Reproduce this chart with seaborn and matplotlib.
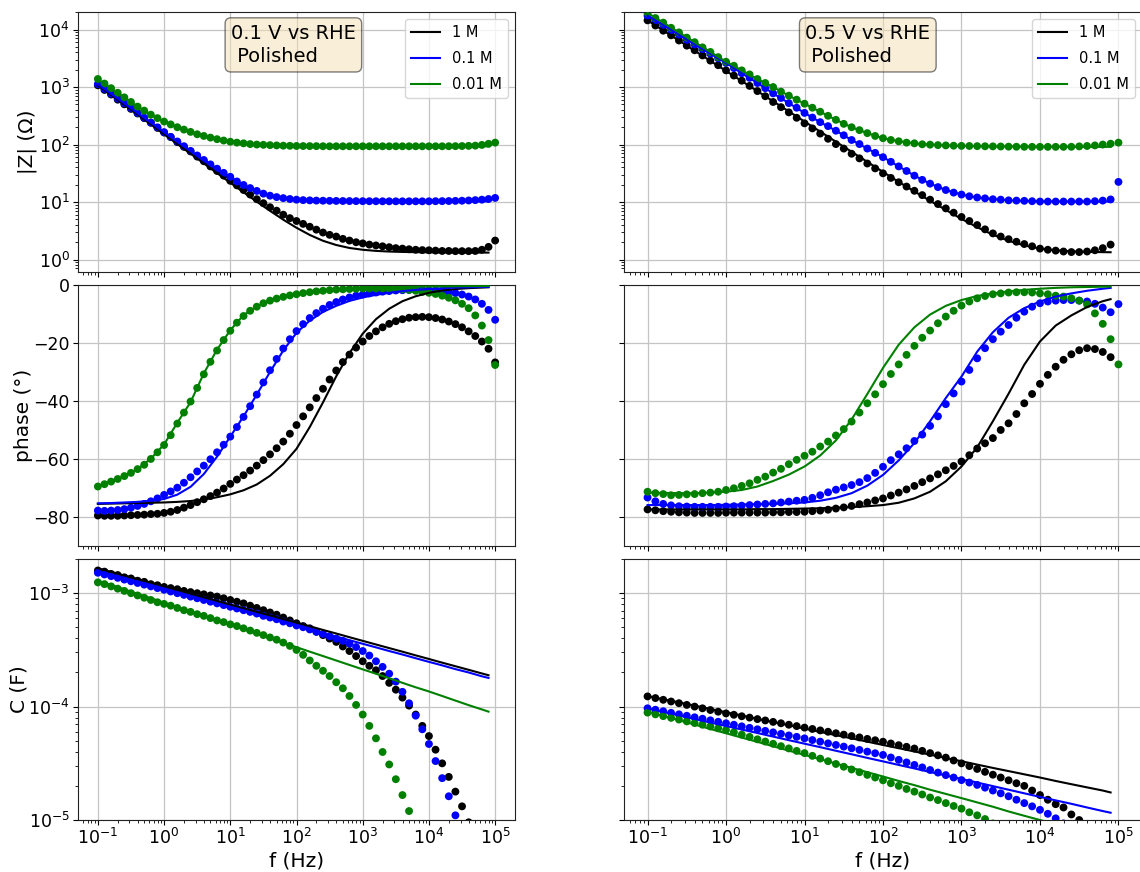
import matplotlib
matplotlib.use("Agg")
import matplotlib.pyplot as plt
from matplotlib.lines import Line2D
import seaborn as sns

# ---------------- data ----------------
freq = [0.1, 0.1259, 0.1585, 0.1995, 0.2512, 0.3162, 0.3981, 0.5012, 0.631, 0.7943,
        1, 1.259, 1.585, 1.995, 2.512, 3.162, 3.981, 5.012, 6.31, 7.943,
        10, 12.59, 15.85, 19.95, 25.12, 31.62, 39.81, 50.12, 63.1, 79.43,
        100, 125.9, 158.5, 199.5, 251.2, 316.2, 398.1, 501.2, 631, 794.3,
        1000, 1259, 1585, 1995, 2512, 3162, 3981, 5012, 6310, 7943,
        10000, 12590, 15850, 19950, 25120, 31620, 39810, 50120, 63100, 79430, 100000]
freq_fit = [0.1, 0.1585, 0.2512, 0.3981, 0.631, 1, 1.585, 2.512, 3.981, 6.31,
            10, 15.85, 25.12, 39.81, 63.1, 100, 158.5, 251.2, 398.1, 631,
            1000, 1585, 2512, 3981, 6310, 10000, 15850, 25120, 39810, 63100, 79430]
concentrations = ["1 M", "0.1 M", "0.01 M"]
colors = ["black", "blue", "green"]
potentials = ["0.1 V vs RHE\n Polished", "0.5 V vs RHE\n Polished"]

# ---- 0.1 V : |Z| (Ohm) ----
zmag_01V_1M = [1072, 891, 741, 603, 501, 417, 347, 288, 240, 195,
               162, 135, 110, 91.2, 75.9, 61.7, 51.3, 41.7, 34.7, 28.8,
               23.4, 19.5, 16.2, 13.5, 11.2, 9.55, 8.13, 7.08, 6.03, 5.25,
               4.68, 4.17, 3.72, 3.31, 2.95, 2.69, 2.51, 2.29, 2.14, 2.0,
               1.91, 1.82, 1.76, 1.70, 1.64, 1.58, 1.55, 1.51, 1.48, 1.46,
               1.45, 1.43, 1.41, 1.41, 1.40, 1.40, 1.40, 1.41, 1.48, 1.66, 2.14]
zmag_01V_01M = [1124, 927, 764, 630, 520, 429, 354, 292, 241, 199,
                164, 136, 113, 93.5, 77.6, 64.6, 53.9, 45.2, 38.0, 32.2,
                27.5, 22.8, 19.8, 17.5, 15.6, 14.0, 12.9, 12.2, 11.7, 11.3,
                11.0, 10.8, 10.7, 10.6, 10.55, 10.5, 10.46, 10.43, 10.4, 10.38,
                10.36, 10.34, 10.33, 10.32, 10.31, 10.3, 10.3, 10.3, 10.3, 10.3,
                10.3, 10.35, 10.38, 10.42, 10.48, 10.55, 10.65, 10.8, 11.0, 11.3, 11.8]
zmag_01V_001M = [1380, 1148, 955, 794, 661, 550, 457, 389, 331, 288,
                 251, 224, 200, 182, 166, 151, 141, 132, 124, 117.5,
                 112, 108, 105, 102, 100, 98.9, 97.7, 96.6, 95.5, 95.1,
                 94.4, 94.2, 94.0, 93.8, 93.5, 93.3, 93.3, 93.3, 93.3, 93.3,
                 93.3, 93.3, 93.3, 93.3, 93.3, 93.3, 93.3, 93.3, 93.3, 93.3,
                 93.3, 93.3, 93.3, 93.5, 93.8, 94.2, 94.8, 95.7, 98.5, 103, 108]
zfit_01V_1M = [1072, 724, 490, 331, 224, 151, 102, 69.5, 47.1, 31.9,
               21.7, 14.8, 10.16, 7.03, 4.94, 3.57, 2.68, 2.12, 1.79, 1.59,
               1.48, 1.415, 1.378, 1.357, 1.344, 1.335, 1.328, 1.325, 1.323, 1.322, 1.321]
zfit_01V_01M = [1120, 762, 518, 352, 240, 163, 112, 77.5, 53.8, 38.0,
                27.5, 19.8, 15.6, 12.9, 11.7, 11.0, 10.7, 10.55, 10.46, 10.4,
                10.36, 10.33, 10.31, 10.3, 10.3, 10.3, 10.3, 10.3, 10.3, 10.3, 10.3]
zfit_01V_001M = [1370, 950, 660, 458, 330, 250, 200, 166, 141, 124,
                 112, 105, 100, 97.5, 95.8, 94.8, 94.2, 93.8, 93.6, 93.5,
                 93.4, 93.4, 93.4, 93.4, 93.4, 93.4, 93.4, 93.4, 93.4, 93.3, 93.3]

# ---- 0.1 V : phase (deg) ----
phase_01V_1M = [-79.5, -79.6, -79.6, -79.6, -79.5, -79.4, -79.3, -79.2, -79.0, -78.9,
                -78.6, -78.2, -77.6, -76.8, -75.9, -74.9, -73.9, -72.8, -71.6, -70.2,
                -68.6, -67.1, -65.6, -64.0, -62.3, -60.4, -58.4, -56.3, -54.0, -51.3,
                -48.3, -45.3, -42.2, -39.0, -35.8, -32.6, -29.5, -26.6, -24.0, -21.6,
                -19.5, -17.6, -16.0, -14.6, -13.4, -12.5, -11.8, -11.3, -11.1, -11.0,
                -11.1, -11.4, -11.9, -12.6, -13.5, -14.6, -16.0, -17.6, -19.5, -22.0, -26.7]
phase_01V_01M = [-77.8, -77.9, -77.8, -77.6, -77.3, -76.8, -76.2, -75.5, -74.6, -73.6,
                 -72.4, -71.2, -69.9, -68.2, -66.3, -64.3, -62.3, -60.1, -57.7, -55.1,
                 -52.3, -49.0, -45.5, -41.8, -37.8, -33.6, -29.4, -25.5, -21.9, -18.7,
                 -15.9, -13.5, -11.4, -9.7, -8.2, -6.9, -5.9, -5.0, -4.3, -3.7,
                 -3.3, -2.9, -2.6, -2.3, -2.1, -1.9, -1.8, -1.7, -1.7, -1.7,
                 -1.8, -1.9, -2.1, -2.4, -2.8, -3.3, -4.0, -5.0, -6.5, -8.6, -12.0]
phase_01V_001M = [-69.5, -68.7, -67.8, -66.9, -65.9, -64.8, -63.5, -62.0, -60.0, -57.7,
                  -55.2, -51.8, -47.8, -44.0, -40.2, -35.5, -30.8, -26.5, -22.6, -19.0,
                  -15.8, -13.0, -10.7, -8.9, -7.5, -6.3, -5.4, -4.7, -4.1, -3.6,
                  -3.2, -2.8, -2.5, -2.2, -2.0, -1.8, -1.6, -1.5, -1.4, -1.3,
                  -1.2, -1.2, -1.2, -1.2, -1.3, -1.4, -1.5, -1.7, -2.0, -2.4,
                  -2.7, -3.1, -3.7, -4.4, -5.3, -6.5, -8.0, -10.5, -14.0, -19.0, -27.6]
pfit_01V_1M = [-75.5, -75.4, -75.3, -75.2, -75.1, -75.0, -74.8, -74.5, -74.0, -73.2,
               -72.2, -70.8, -68.8, -65.8, -61.8, -56.5, -49.0, -40.5, -31.5, -23.5,
               -16.8, -11.8, -8.2, -5.6, -3.9, -2.7, -1.9, -1.4, -1.1, -0.9, -0.8]
pfit_01V_01M = [-75.3, -75.2, -75.0, -74.8, -74.4, -73.8, -72.3, -69.6, -65.2, -59.2,
                -52.3, -45.3, -37.8, -30.0, -22.6, -16.5, -12.3, -9.3, -7.2, -5.5,
                -4.3, -3.4, -2.7, -2.1, -1.7, -1.4, -1.1, -0.9, -0.8, -0.7, -0.65]
pfit_01V_001M = [-69.5, -67.8, -65.9, -63.5, -59.9, -55.0, -47.5, -40.4, -30.5, -22.3,
                 -15.6, -10.4, -7.4, -5.4, -4.1, -3.1, -2.4, -1.9, -1.5, -1.25,
                 -1.05, -0.9, -0.8, -0.7, -0.6, -0.55, -0.5, -0.45, -0.4, -0.4, -0.35]

# ---- 0.1 V : C (F) ----
cap_01V_1M = [1.585e-3, 1.549e-3, 1.479e-3, 1.445e-3, 1.380e-3, 1.349e-3, 1.288e-3, 1.259e-3, 1.202e-3, 1.175e-3,
              1.135e-3, 1.109e-3, 1.084e-3, 1.047e-3, 1.023e-3, 1.000e-3, 9.77e-4, 9.55e-4, 9.33e-4, 9.02e-4,
              8.71e-4, 8.41e-4, 8.13e-4, 7.76e-4, 7.41e-4, 7.08e-4, 6.76e-4, 6.46e-4, 6.10e-4, 5.75e-4,
              5.43e-4, 5.13e-4, 4.90e-4, 4.57e-4, 4.27e-4, 3.98e-4, 3.72e-4, 3.39e-4, 3.09e-4, 2.79e-4,
              2.51e-4, 2.29e-4, 2.09e-4, 1.86e-4, 1.62e-4, 1.41e-4, 1.20e-4, 1.02e-4, 8.51e-5, 6.76e-5,
              5.50e-5, 4.17e-5, 3.16e-5, 2.40e-5, 1.78e-5, 1.32e-5, 9.55e-6, 6.76e-6, 4.68e-6, 3.16e-6, 2.00e-6]
cap_01V_01M = [1.514e-3, 1.462e-3, 1.413e-3, 1.365e-3, 1.318e-3, 1.274e-3, 1.230e-3, 1.189e-3, 1.148e-3, 1.109e-3,
               1.072e-3, 1.035e-3, 1.000e-3, 9.66e-4, 9.33e-4, 9.02e-4, 8.71e-4, 8.41e-4, 8.13e-4, 7.85e-4,
               7.59e-4, 7.33e-4, 7.08e-4, 6.84e-4, 6.61e-4, 6.31e-4, 6.10e-4, 5.89e-4, 5.62e-4, 5.43e-4,
               5.19e-4, 5.01e-4, 4.79e-4, 4.57e-4, 4.37e-4, 4.17e-4, 3.98e-4, 3.80e-4, 3.59e-4, 3.35e-4,
               3.09e-4, 2.82e-4, 2.51e-4, 2.24e-4, 1.95e-4, 1.66e-4, 1.35e-4, 1.07e-4, 8.32e-5, 6.31e-5,
               4.68e-5, 3.31e-5, 2.34e-5, 1.62e-5, 1.10e-5, 7.24e-6, 4.79e-6, 3.09e-6, 1.95e-6, 1.20e-6, 7.24e-7]
cap_01V_001M = [1.245e-3, 1.202e-3, 1.148e-3, 1.096e-3, 1.047e-3, 1.000e-3, 9.55e-4, 9.12e-4, 8.71e-4, 8.32e-4,
                8.04e-4, 7.76e-4, 7.41e-4, 7.08e-4, 6.84e-4, 6.53e-4, 6.31e-4, 6.03e-4, 5.75e-4, 5.56e-4,
                5.31e-4, 5.13e-4, 4.90e-4, 4.68e-4, 4.47e-4, 4.27e-4, 4.07e-4, 3.89e-4, 3.67e-4, 3.43e-4,
                3.16e-4, 2.86e-4, 2.55e-4, 2.29e-4, 2.07e-4, 1.86e-4, 1.64e-4, 1.45e-4, 1.24e-4, 1.035e-4,
                8.51e-5, 6.76e-5, 5.25e-5, 3.98e-5, 3.09e-5, 2.29e-5, 1.66e-5, 1.20e-5, 8.51e-6, 5.89e-6,
                3.98e-6, 2.63e-6, 1.70e-6, 1.07e-6, 6.61e-7, 3.98e-7, 2.34e-7, 1.35e-7, 7.59e-8, 4.17e-8, 2.24e-8]
cfit_01V_1M = [1.66e-3, 1.54e-3, 1.43e-3, 1.33e-3, 1.24e-3, 1.15e-3, 1.07e-3, 9.91e-4, 9.20e-4, 8.55e-4,
               7.94e-4, 7.38e-4, 6.85e-4, 6.37e-4, 5.92e-4, 5.50e-4, 5.11e-4, 4.74e-4, 4.41e-4, 4.09e-4,
               3.80e-4, 3.53e-4, 3.28e-4, 3.05e-4, 2.83e-4, 2.63e-4, 2.44e-4, 2.27e-4, 2.11e-4, 1.96e-4, 1.89e-4]
cfit_01V_01M = [1.55e-3, 1.44e-3, 1.34e-3, 1.24e-3, 1.16e-3, 1.07e-3, 9.98e-4, 9.27e-4, 8.63e-4, 8.02e-4,
                7.45e-4, 6.92e-4, 6.43e-4, 5.98e-4, 5.56e-4, 5.16e-4, 4.80e-4, 4.46e-4, 4.15e-4, 3.85e-4,
                3.58e-4, 3.33e-4, 3.09e-4, 2.88e-4, 2.67e-4, 2.48e-4, 2.31e-4, 2.14e-4, 2.00e-4, 1.85e-4, 1.79e-4]
cfit_01V_001M = [1.29e-3, 1.18e-3, 1.08e-3, 9.87e-4, 9.02e-4, 8.24e-4, 7.53e-4, 6.88e-4, 6.29e-4, 5.74e-4,
                 5.25e-4, 4.80e-4, 4.38e-4, 4.00e-4, 3.66e-4, 3.34e-4, 3.05e-4, 2.79e-4, 2.55e-4, 2.33e-4,
                 2.13e-4, 1.95e-4, 1.78e-4, 1.62e-4, 1.48e-4, 1.36e-4, 1.24e-4, 1.13e-4, 1.03e-4, 9.44e-5, 9.03e-5]

# ---- 0.5 V : |Z| (Ohm) ----
zmag_05V_1M = [14450, 11750, 9550, 7943, 6457, 5248, 4365, 3548, 2884, 2399,
               1950, 1585, 1288, 1047, 851, 692, 550, 447, 363, 292,
               234, 191, 155, 126, 102, 85.1, 69.2, 57.5, 46.8, 38.5,
               31.6, 26.3, 22.1, 18.6, 15.7, 13.2, 11.0, 9.23, 7.76, 6.53,
               5.50, 4.68, 3.98, 3.35, 2.85, 2.51, 2.26, 2.04, 1.86, 1.70,
               1.55, 1.48, 1.43, 1.38, 1.35, 1.35, 1.38, 1.45, 1.58, 1.82]
zmag_05V_01M = [17378, 14454, 12023, 9772, 8128, 6607, 5495, 4571, 3802, 3162,
                2630, 2138, 1738, 1445, 1175, 955, 776, 646, 525, 437,
                355, 295, 245, 209, 174, 145, 120, 102, 85.1, 71.6,
                60.3, 50.1, 41.7, 34.7, 28.8, 24.3, 20.9, 18.2, 16.2, 14.6,
                13.5, 12.6, 12.0, 11.6, 11.2, 11.0, 10.7, 10.6, 10.5, 10.35,
                10.2, 10.2, 10.2, 10.2, 10.2, 10.2, 10.2, 10.35, 10.6, 11.1, 22.4]
zmag_05V_001M = [19500, 15850, 13180, 10720, 8913, 7244, 6026, 4898, 4074, 3311,
                 2754, 2344, 1950, 1660, 1380, 1175, 1000, 832, 708, 603,
                 513, 437, 372, 316, 269, 229, 200, 178, 158, 141,
                 129, 120, 114, 108, 105, 101, 99.5, 97.7, 96.6, 95.5,
                 94.8, 94.4, 93.8, 93.3, 92.9, 92.5, 92.0, 91.6, 91.4, 91.2,
                 91.2, 91.2, 91.2, 91.2, 91.4, 92.9, 94.4, 96.6, 100, 103.5, 108]
zfit_05V_1M = [14450, 9640, 6430, 4285, 2858, 1905, 1271, 847, 565, 377,
               251, 168, 112, 74.8, 50.0, 33.4, 22.4, 15.3, 10.5, 7.3,
               5.1, 3.65, 2.7, 2.12, 1.76, 1.55, 1.45, 1.39, 1.36, 1.345, 1.34]
zfit_05V_01M = [17380, 12020, 8130, 5500, 3800, 2630, 1738, 1175, 776, 525,
                355, 245, 174, 120, 85.1, 60.3, 41.7, 28.8, 20.9, 16.2,
                13.5, 12.0, 11.2, 10.7, 10.5, 10.3, 10.25, 10.2, 10.2, 10.2, 10.2]
zfit_05V_001M = [19500, 13180, 8913, 6026, 4074, 2754, 1950, 1380, 1000, 708,
                 513, 372, 269, 200, 158, 129, 114, 105, 99.5, 96.6,
                 94.8, 93.8, 93.0, 92.5, 92.0, 91.6, 91.4, 91.3, 91.2, 91.2, 91.2]

# ---- 0.5 V : phase (deg) ----
phase_05V_1M = [-77.4, -77.7, -78.0, -78.2, -78.4, -78.5, -78.6, -78.6, -78.6, -78.6,
                -78.5, -78.5, -78.5, -78.5, -78.5, -78.5, -78.4, -78.4, -78.3, -78.3,
                -78.2, -78.0, -77.8, -77.5, -77.1, -76.7, -76.2, -75.6, -75.0, -74.3,
                -73.6, -72.6, -71.6, -70.5, -69.3, -68.0, -66.7, -65.3, -63.9, -62.4,
                -60.9, -58.7, -56.4, -54.6, -52.8, -50.0, -47.7, -44.5, -40.8, -37.6,
                -34.1, -31.0, -28.2, -25.8, -23.9, -22.5, -21.8, -22.1, -23.1, -24.9]
phase_05V_01M = [-73.3, -74.6, -75.5, -76.0, -76.3, -76.4, -76.5, -76.5, -76.5, -76.5,
                 -76.4, -76.3, -76.1, -75.9, -75.7, -75.5, -75.3, -75.0, -74.7, -74.4,
                 -74.1, -73.4, -72.5, -71.5, -70.6, -69.8, -69.0, -68.0, -66.6, -64.8,
                 -62.7, -60.4, -58.4, -56.3, -53.8, -51.6, -48.6, -45.3, -41.1, -37.4,
                 -33.3, -29.3, -25.3, -21.8, -18.7, -16.1, -13.8, -11.3, -9.2, -7.5,
                 -6.3, -5.7, -5.4, -5.2, -5.2, -5.4, -5.7, -6.5, -7.8, -9.4, -6.6]
phase_05V_001M = [-71.3, -71.8, -72.1, -72.5, -72.4, -72.2, -72.1, -71.8, -71.6, -71.3,
                  -70.7, -70.1, -69.3, -68.4, -67.2, -66.1, -64.7, -63.4, -61.8, -60.3,
                  -58.9, -57.5, -55.7, -54.0, -51.9, -49.7, -47.1, -44.0, -40.8, -37.7,
                  -34.2, -30.7, -27.4, -24.1, -21.0, -18.2, -15.7, -13.2, -10.9, -8.9,
                  -7.1, -5.7, -4.6, -3.8, -3.2, -2.9, -2.6, -2.5, -2.5, -2.6,
                  -2.9, -3.2, -3.7, -4.0, -4.6, -5.4, -6.7, -9.8, -13.4, -18.7, -27.4]
pfit_05V_1M = [-77.4, -77.4, -77.4, -77.4, -77.4, -77.4, -77.4, -77.3, -77.3, -77.2,
               -77.1, -77.0, -76.8, -76.6, -76.3, -75.9, -75.1, -73.6, -71.3, -67.7,
               -62.6, -56.0, -47.0, -37.5, -27.5, -19.5, -14.0, -10.5, -7.6, -5.6, -4.9]
pfit_05V_01M = [-75.9, -75.9, -75.9, -75.9, -75.9, -75.8, -75.7, -75.6, -75.5, -75.3,
                -75.0, -74.4, -73.4, -71.8, -69.2, -65.5, -60.5, -54.5, -47.0, -39.0,
                -31.6, -23.0, -16.3, -11.3, -8.0, -5.7, -4.0, -2.9, -2.0, -1.3, -1.0]
pfit_05V_001M = [-71.6, -71.7, -71.8, -71.8, -71.6, -71.3, -70.7, -69.5, -67.6, -65.4,
                 -62.6, -58.8, -53.6, -46.4, -37.6, -28.6, -20.6, -14.6, -10.2, -7.2,
                 -5.2, -3.8, -2.9, -2.2, -1.7, -1.3, -1.0, -0.8, -0.7, -0.6, -0.55]

# ---- 0.5 V : C (F) ----
cap_05V_1M = [1.230e-4, 1.189e-4, 1.148e-4, 1.109e-4, 1.072e-4, 1.035e-4, 1.000e-4, 9.66e-5, 9.33e-5, 9.02e-5,
              8.71e-5, 8.47e-5, 8.22e-5, 8.00e-5, 7.76e-5, 7.55e-5, 7.33e-5, 7.13e-5, 6.92e-5, 6.73e-5,
              6.53e-5, 6.35e-5, 6.17e-5, 6.00e-5, 5.82e-5, 5.66e-5, 5.50e-5, 5.35e-5, 5.19e-5, 5.05e-5,
              4.90e-5, 4.73e-5, 4.57e-5, 4.42e-5, 4.27e-5, 4.07e-5, 3.89e-5, 3.72e-5, 3.55e-5, 3.35e-5,
              3.16e-5, 2.99e-5, 2.82e-5, 2.66e-5, 2.51e-5, 2.37e-5, 2.24e-5, 2.11e-5, 2.00e-5, 1.82e-5,
              1.66e-5, 1.51e-5, 1.38e-5, 1.29e-5, 1.12e-5, 1.00e-5, 8.32e-6, 6.92e-6, 5.62e-6, 4.47e-6]
cap_05V_01M = [9.66e-5, 9.38e-5, 9.10e-5, 8.81e-5, 8.55e-5, 8.30e-5, 8.05e-5, 7.82e-5, 7.57e-5, 7.35e-5,
               7.13e-5, 6.92e-5, 6.70e-5, 6.50e-5, 6.31e-5, 6.11e-5, 5.93e-5, 5.75e-5, 5.57e-5, 5.41e-5,
               5.25e-5, 5.07e-5, 4.91e-5, 4.74e-5, 4.59e-5, 4.44e-5, 4.29e-5, 4.15e-5, 4.01e-5, 3.88e-5,
               3.75e-5, 3.56e-5, 3.39e-5, 3.22e-5, 3.06e-5, 2.91e-5, 2.76e-5, 2.62e-5, 2.49e-5, 2.37e-5,
               2.25e-5, 2.14e-5, 2.04e-5, 1.93e-5, 1.82e-5, 1.72e-5, 1.62e-5, 1.51e-5, 1.41e-5, 1.32e-5,
               1.23e-5, 1.135e-5, 1.035e-5, 9.33e-6, 8.32e-6, 7.24e-6, 6.31e-6, 5.37e-6, 4.47e-6, 3.63e-6, 2.82e-6]
cap_05V_001M = [8.85e-5, 8.55e-5, 8.24e-5, 7.96e-5, 7.69e-5, 7.41e-5, 7.16e-5, 6.92e-5, 6.68e-5, 6.44e-5,
                6.22e-5, 5.94e-5, 5.66e-5, 5.41e-5, 5.15e-5, 4.92e-5, 4.70e-5, 4.48e-5, 4.28e-5, 4.07e-5,
                3.89e-5, 3.68e-5, 3.48e-5, 3.30e-5, 3.12e-5, 2.95e-5, 2.79e-5, 2.64e-5, 2.50e-5, 2.37e-5,
                2.24e-5, 2.11e-5, 2.00e-5, 1.88e-5, 1.78e-5, 1.68e-5, 1.58e-5, 1.50e-5, 1.41e-5, 1.33e-5,
                1.26e-5, 1.17e-5, 1.10e-5, 1.02e-5, 9.33e-6, 8.51e-6, 7.76e-6, 6.92e-6, 6.17e-6, 5.37e-6,
                4.68e-6, 3.98e-6, 3.39e-6, 2.82e-6, 2.34e-6, 1.91e-6, 1.51e-6, 1.17e-6, 8.91e-7, 6.61e-7, 4.47e-7]
cfit_05V_1M = [1.24e-4, 1.16e-4, 1.09e-4, 1.02e-4, 9.53e-5, 8.91e-5, 8.34e-5, 7.80e-5, 7.31e-5, 6.84e-5,
               6.40e-5, 5.98e-5, 5.60e-5, 5.25e-5, 4.91e-5, 4.59e-5, 4.30e-5, 4.02e-5, 3.77e-5, 3.52e-5,
               3.30e-5, 3.08e-5, 2.88e-5, 2.70e-5, 2.53e-5, 2.37e-5, 2.21e-5, 2.07e-5, 1.94e-5, 1.82e-5, 1.75e-5]
cfit_05V_01M = [9.66e-5, 8.99e-5, 8.37e-5, 7.78e-5, 7.24e-5, 6.75e-5, 6.28e-5, 5.85e-5, 5.44e-5, 5.06e-5,
                4.71e-5, 4.39e-5, 4.08e-5, 3.80e-5, 3.53e-5, 3.29e-5, 3.06e-5, 2.85e-5, 2.65e-5, 2.47e-5,
                2.30e-5, 2.14e-5, 1.99e-5, 1.85e-5, 1.72e-5, 1.60e-5, 1.49e-5, 1.39e-5, 1.29e-5, 1.20e-5, 1.16e-5]
cfit_05V_001M = [9.03e-5, 8.28e-5, 7.59e-5, 6.94e-5, 6.35e-5, 5.82e-5, 5.33e-5, 4.89e-5, 4.47e-5, 4.09e-5,
                 3.75e-5, 3.44e-5, 3.15e-5, 2.88e-5, 2.64e-5, 2.42e-5, 2.21e-5, 2.03e-5, 1.85e-5, 1.70e-5,
                 1.56e-5, 1.43e-5, 1.31e-5, 1.19e-5, 1.09e-5, 1.00e-5, 9.18e-6, 8.41e-6, 7.69e-6, 7.05e-6, 6.75e-6]

# ---------------- figure ----------------
plt.rcParams["font.family"] = ["DejaVu Sans"]
fig = plt.figure(figsize=(11.4, 8.72), dpi=100)

col_x = [(78 / 1140, 437 / 1140), (624 / 1140, 518 / 1140)]
row_y = [(0.6881, 0.2982), (0.3739, 0.2993), (0.0596, 0.2993)]

panels = [
    [([zmag_01V_1M, zmag_01V_01M, zmag_01V_001M], [zfit_01V_1M, zfit_01V_01M, zfit_01V_001M]),
     ([zmag_05V_1M, zmag_05V_01M, zmag_05V_001M], [zfit_05V_1M, zfit_05V_01M, zfit_05V_001M])],
    [([phase_01V_1M, phase_01V_01M, phase_01V_001M], [pfit_01V_1M, pfit_01V_01M, pfit_01V_001M]),
     ([phase_05V_1M, phase_05V_01M, phase_05V_001M], [pfit_05V_1M, pfit_05V_01M, pfit_05V_001M])],
    [([cap_01V_1M, cap_01V_01M, cap_01V_001M], [cfit_01V_1M, cfit_01V_01M, cfit_01V_001M]),
     ([cap_05V_1M, cap_05V_01M, cap_05V_001M], [cfit_05V_1M, cfit_05V_01M, cfit_05V_001M])],
]
ylabels = ["|Z| (\u03a9)", "phase (\u00b0)", "C (F)"]
ylabel_x = [-0.094, -0.103, -0.114]
ylims = [(0.608, 20230), (-90, 0), (1e-5, 2.0e-3)]
yscales = ["log", "linear", "log"]

TICK_FS = 12.5
LABEL_FS = 14.5

for r in range(3):
    for c in range(2):
        x0, w = col_x[c]
        y0, h = row_y[r]
        ax = fig.add_axes([x0, y0, w, h])
        ax.set_xscale("log")
        ax.set_yscale(yscales[r])
        dots, fits = panels[r][c]
        for d, col in zip(dots, colors):
            sns.scatterplot(x=freq[:len(d)], y=d, color=col, s=32, linewidth=0,
                            edgecolor="none", ax=ax, legend=False, zorder=2)
        for fdat, col in zip(fits, colors):
            sns.lineplot(x=freq_fit, y=fdat, color=col, lw=1.5, ax=ax,
                         legend=False, errorbar=None, zorder=3)
        ax.set_xlim(10 ** -1.3, 10 ** 5.3)
        ax.set_ylim(*ylims[r])
        if r == 1:
            ax.set_yticks([0, -20, -40, -60, -80])
        ax.grid(True, which="major", color="#c4c4c4", lw=0.9)
        ax.set_axisbelow(True)
        ax.tick_params(axis="both", which="both", direction="out", labelsize=TICK_FS)
        ax.tick_params(axis="both", which="major", pad=2.5)
        if r < 2:
            ax.tick_params(axis="x", which="both", labelbottom=False)
            ax.set_xlabel("")
        else:
            ax.set_xlabel("f (Hz)", fontsize=LABEL_FS, labelpad=2)
        if c == 0:
            ax.set_ylabel(ylabels[r], fontsize=LABEL_FS)
            ax.yaxis.set_label_coords(ylabel_x[r], 0.5)
        else:
            ax.tick_params(axis="y", which="both", labelleft=False)
            ax.set_ylabel("")
        for sp in ax.spines.values():
            sp.set_color("#222222")
        if r == 0:
            ax.text(0.35, 0.955, potentials[c], transform=ax.transAxes, fontsize=14,
                    va="top", ha="left", linespacing=1.3,
                    bbox=dict(boxstyle="round", facecolor="wheat", alpha=0.5))
            handles = [Line2D([0], [0], color=col, lw=1.5) for col in colors]
            ax.legend(handles, concentrations, loc="upper right", fontsize=10.5,
                      labelspacing=0.75)

fig.savefig("out.png", dpi=100)
